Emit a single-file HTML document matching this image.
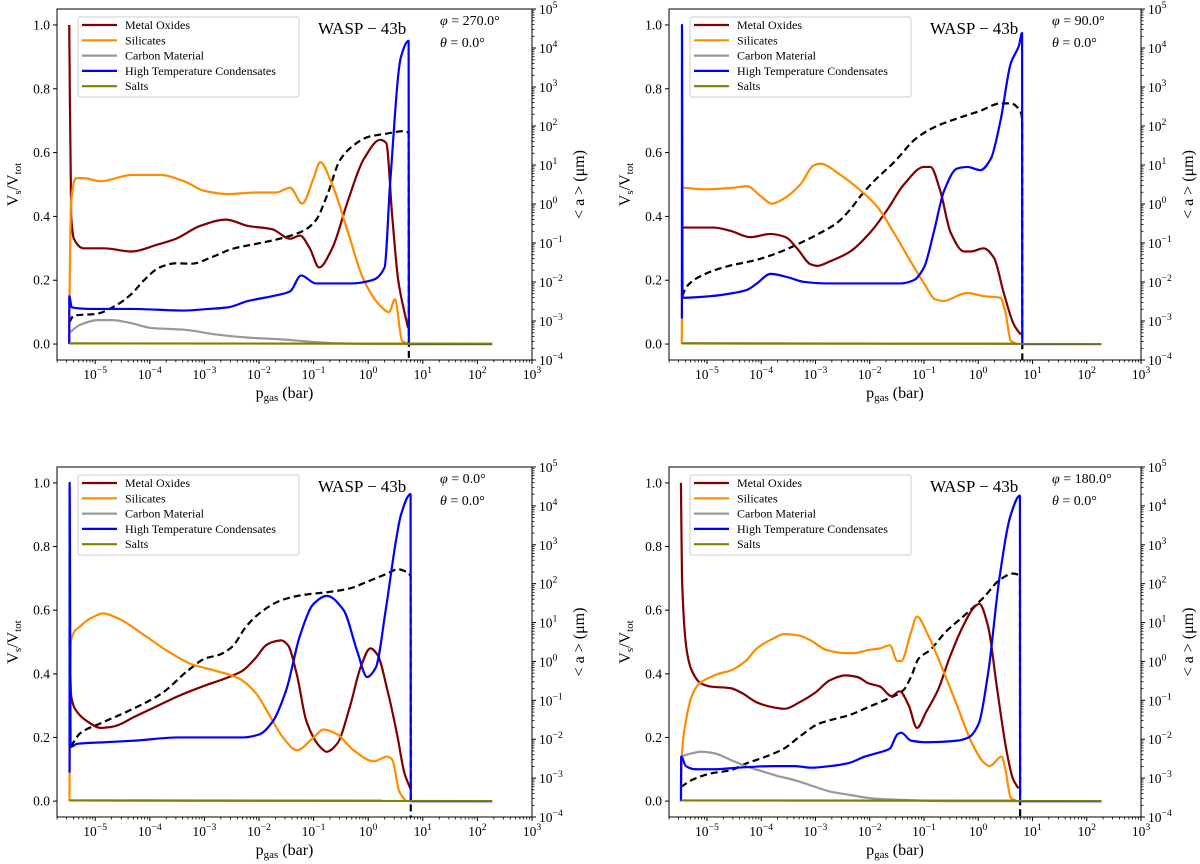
<!DOCTYPE html>
<html><head><meta charset="utf-8">
<style>
html,body{margin:0;padding:0;background:#fff;}
svg{display:block;font-family:"Liberation Serif","DejaVu Serif",serif;}
</style></head>
<body>
<svg id="chart" width="1200" height="864" viewBox="0 0 1200 864" xmlns="http://www.w3.org/2000/svg"></svg>
<script>
// ---- data (x = log10 p_gas [bar]; y = V_s/V_tot ; size = log10 <a> [um]) ----
const xTickExps = [-5,-4,-3,-2,-1,0,1,2,3];
const yTickVals = [0.0,0.2,0.4,0.6,0.8,1.0];
const rTickExps = [-4,-3,-2,-1,0,1,2,3,4,5];
const seriesNames = ["Metal  Oxides","Silicates","Carbon Material","High  Temperature  Condensates","Salts"];
const phiLabels = ["270.0","90.0","0.0","180.0"];

const metal1=[[-5.476,1.0],[-5.44,0.4],[-5.39,0.33],[-5.21,0.30],[-4.84,0.30],[-4.33,0.29],[-3.89,0.31],[-3.52,0.33],[-3.08,0.37],[-2.6,0.39],[-2.2,0.37],[-1.76,0.36],[-1.43,0.33],[-1.25,0.34],[-1.07,0.30],[-0.9,0.24],[-0.66,0.30],[-0.37,0.45],[-0.08,0.58],[0.22,0.64],[0.33,0.63],[0.44,0.40],[0.55,0.20],[0.73,0.05]];
const sil1=[[-5.476,0],[-5.47,0.15],[-5.44,0.45],[-5.35,0.52],[-5.21,0.52],[-4.91,0.51],[-4.33,0.53],[-3.81,0.53],[-3.37,0.51],[-3.0,0.48],[-2.57,0.47],[-2.05,0.475],[-1.69,0.475],[-1.43,0.49],[-1.21,0.44],[-1.0,0.52],[-0.88,0.57],[-0.66,0.50],[-0.37,0.35],[-0.08,0.20],[0.22,0.12],[0.38,0.10],[0.49,0.14],[0.62,0.01],[0.73,0]];
const carb1=[[-5.476,0.035],[-5.28,0.06],[-4.95,0.075],[-4.69,0.075],[-4.33,0.065],[-3.96,0.05],[-3.37,0.045],[-2.79,0.03],[-2.2,0.02],[-1.62,0.015],[-1.03,0.007],[-0.52,0.002],[0.22,0],[2.27,0]];
const htc1=[[-5.476,0],[-5.475,0.15],[-5.43,0.115],[-5.06,0.11],[-4.33,0.11],[-3.37,0.105],[-2.93,0.11],[-2.57,0.115],[-2.2,0.135],[-1.76,0.15],[-1.43,0.165],[-1.23,0.215],[-0.96,0.19],[-0.3,0.19],[0.07,0.20],[0.30,0.24],[0.40,0.50],[0.60,0.90],[0.74,0.95],[0.745,0],[2.27,0]];
const salt1=[[-5.476,0.002],[2.27,0.001]];
const size1=[[-5.476,-3.04],[-5.39,-2.86],[-4.99,-2.82],[-4.62,-2.6],[-4.33,-2.3],[-4.11,-1.96],[-3.81,-1.62],[-3.52,-1.52],[-3.23,-1.53],[-2.86,-1.36],[-2.49,-1.15],[-2.05,-1.02],[-1.62,-0.89],[-1.18,-0.68],[-0.96,-0.42],[-0.74,0.27],[-0.52,1.12],[-0.3,1.47],[0.0,1.72],[0.36,1.81],[0.66,1.87],[0.74,1.81],[0.745,-4.1]];

const metal2=[[-5.46,0.365],[-4.88,0.365],[-4.57,0.355],[-4.2,0.335],[-3.83,0.345],[-3.55,0.335],[-3.34,0.30],[-3.09,0.25],[-2.97,0.245],[-2.72,0.26],[-2.36,0.29],[-1.99,0.35],[-1.68,0.42],[-1.37,0.50],[-1.0,0.555],[-0.88,0.555],[-0.7,0.48],[-0.51,0.35],[-0.26,0.29],[-0.14,0.29],[0.1,0.30],[0.29,0.27],[0.47,0.16],[0.66,0.06],[0.78,0.03]];
const sil2=[[-5.465,0],[-5.462,0.08],[-5.455,0.49],[-5.06,0.485],[-4.51,0.49],[-4.26,0.495],[-4.02,0.465],[-3.8,0.44],[-3.59,0.455],[-3.28,0.50],[-3.03,0.56],[-2.91,0.565],[-2.54,0.53],[-2.23,0.49],[-1.86,0.43],[-1.56,0.35],[-1.25,0.26],[-1.0,0.19],[-0.79,0.14],[-0.63,0.135],[-0.33,0.155],[-0.2,0.16],[0.1,0.15],[0.41,0.145],[0.5,0.10],[0.6,0.01],[0.72,0]];
const carb2=[[-5.46,0.002],[2.27,0]];
const htc2=[[-5.462,0.08],[-5.461,1.0],[-5.45,0.145],[-4.94,0.15],[-4.51,0.16],[-4.26,0.17],[-4.08,0.19],[-3.83,0.22],[-3.52,0.21],[-3.22,0.195],[-2.79,0.19],[-2.05,0.19],[-1.43,0.19],[-1.19,0.20],[-1.0,0.24],[-0.82,0.35],[-0.63,0.48],[-0.39,0.55],[-0.2,0.555],[0.04,0.545],[0.23,0.58],[0.41,0.70],[0.6,0.88],[0.75,0.935],[0.808,0.975],[0.812,0],[2.27,0]];
const salt2=[[-5.462,0.002],[2.27,0.001]];
const size2=[[-5.46,-2.37],[-5.37,-2.11],[-5.06,-1.81],[-4.63,-1.6],[-4.08,-1.43],[-3.71,-1.26],[-3.28,-1.0],[-2.91,-0.74],[-2.6,-0.48],[-2.36,-0.14],[-2.17,0.2],[-1.92,0.59],[-1.56,1.06],[-1.13,1.70],[-0.76,2.0],[-0.33,2.22],[0.04,2.39],[0.41,2.58],[0.6,2.58],[0.75,2.43],[0.808,2.17],[0.812,-4.1]];

const metal3=[[-5.47,0.5],[-5.44,0.33],[-5.33,0.28],[-5.14,0.25],[-4.9,0.23],[-4.65,0.235],[-4.28,0.265],[-3.85,0.30],[-3.48,0.33],[-3.04,0.36],[-2.55,0.39],[-2.3,0.41],[-2.06,0.45],[-1.87,0.49],[-1.75,0.50],[-1.59,0.505],[-1.47,0.49],[-1.31,0.40],[-1.13,0.25],[-0.88,0.17],[-0.76,0.155],[-0.57,0.18],[-0.33,0.30],[-0.14,0.42],[0.04,0.48],[0.17,0.46],[0.35,0.35],[0.54,0.20],[0.66,0.09],[0.77,0.04]];
const sil3=[[-5.472,0],[-5.47,0.09],[-5.45,0.50],[-5.27,0.55],[-5.02,0.58],[-4.86,0.59],[-4.59,0.575],[-4.09,0.52],[-3.66,0.47],[-3.23,0.43],[-2.8,0.41],[-2.36,0.385],[-2.06,0.34],[-1.81,0.27],[-1.56,0.20],[-1.31,0.16],[-1.0,0.20],[-0.82,0.225],[-0.57,0.21],[-0.27,0.16],[0.1,0.125],[0.35,0.14],[0.44,0.13],[0.57,0.03],[0.69,0]];
const carb3=[[-5.47,0.002],[2.27,0]];
const htc3=[[-5.47,0.09],[-5.469,1.0],[-5.45,0.17],[-5.33,0.18],[-4.83,0.185],[-4.28,0.19],[-3.48,0.20],[-3.04,0.20],[-2.3,0.20],[-1.99,0.21],[-1.75,0.25],[-1.5,0.35],[-1.25,0.52],[-1.0,0.62],[-0.76,0.645],[-0.45,0.60],[-0.2,0.47],[-0.02,0.39],[0.14,0.42],[0.32,0.60],[0.51,0.82],[0.6,0.90],[0.776,0.965],[0.78,0],[2.27,0]];
const salt3=[[-5.47,0.002],[2.27,0.001]];
const size3=[[-5.45,-2.19],[-5.27,-1.84],[-4.9,-1.59],[-4.34,-1.24],[-3.78,-0.82],[-3.29,-0.22],[-2.98,0.08],[-2.73,0.17],[-2.49,0.38],[-2.24,0.89],[-1.99,1.24],[-1.58,1.58],[-1.19,1.71],[-0.7,1.79],[-0.33,1.88],[-0.02,2.05],[0.35,2.26],[0.54,2.37],[0.69,2.31],[0.776,2.18],[0.78,-4.1]];

const metal4=[[-5.48,1.0],[-5.46,0.70],[-5.37,0.47],[-5.28,0.41],[-5.11,0.37],[-4.93,0.36],[-4.57,0.355],[-4.36,0.34],[-4.08,0.31],[-3.79,0.295],[-3.57,0.29],[-3.3,0.31],[-3.01,0.34],[-2.73,0.38],[-2.45,0.395],[-2.23,0.39],[-2.02,0.37],[-1.81,0.36],[-1.6,0.33],[-1.45,0.345],[-1.28,0.30],[-1.13,0.23],[-0.96,0.28],[-0.74,0.35],[-0.53,0.45],[-0.28,0.55],[-0.07,0.61],[0.02,0.62],[0.18,0.55],[0.35,0.35],[0.53,0.15],[0.64,0.07],[0.74,0.04]];
const sil4=[[-5.48,0],[-5.46,0.15],[-5.39,0.25],[-5.28,0.33],[-5.14,0.37],[-4.93,0.39],[-4.79,0.40],[-4.57,0.41],[-4.29,0.44],[-4.08,0.48],[-3.79,0.51],[-3.58,0.525],[-3.3,0.52],[-3.09,0.505],[-2.8,0.475],[-2.45,0.465],[-2.3,0.465],[-2.02,0.475],[-1.81,0.48],[-1.63,0.49],[-1.49,0.44],[-1.42,0.44],[-1.24,0.53],[-1.13,0.58],[-0.92,0.52],[-0.67,0.42],[-0.39,0.30],[-0.11,0.18],[0.11,0.12],[0.21,0.11],[0.43,0.14],[0.5,0.10],[0.6,0.01],[0.71,0]];
const carb4=[[-5.48,0.14],[-5.28,0.15],[-5.11,0.155],[-4.86,0.15],[-4.57,0.13],[-4.29,0.11],[-4.01,0.095],[-3.72,0.08],[-3.37,0.065],[-3.01,0.045],[-2.73,0.03],[-2.38,0.02],[-2.02,0.01],[-1.6,0.005],[-1.1,0.002],[-0.6,0],[2.27,0]];
const htc4=[[-5.48,0],[-5.475,0.14],[-5.39,0.11],[-5.21,0.10],[-4.86,0.10],[-4.43,0.105],[-3.79,0.11],[-3.37,0.11],[-3.09,0.105],[-2.73,0.11],[-2.38,0.12],[-2.09,0.14],[-1.88,0.15],[-1.63,0.165],[-1.49,0.21],[-1.42,0.215],[-1.24,0.19],[-0.96,0.185],[-0.39,0.19],[-0.18,0.20],[0.0,0.24],[0.18,0.40],[0.39,0.70],[0.6,0.90],[0.768,0.96],[0.772,0],[2.27,0]];
const salt4=[[-5.48,0.002],[2.27,0.001]];
const size4=[[-5.48,-3.23],[-5.28,-3.05],[-4.93,-2.88],[-4.57,-2.8],[-4.29,-2.63],[-3.94,-2.46],[-3.58,-2.24],[-3.3,-1.94],[-2.94,-1.6],[-2.73,-1.51],[-2.38,-1.38],[-2.02,-1.17],[-1.67,-0.96],[-1.38,-0.74],[-1.24,-0.4],[-1.1,0.07],[-0.89,0.29],[-0.6,0.76],[-0.25,1.19],[0.11,1.66],[0.39,2.09],[0.64,2.26],[0.768,2.17],[0.772,-4.1]];

const panelData=[
 {metal:metal1,sil:sil1,carb:carb1,htc:htc1,salt:salt1,size:size1},
 {metal:metal2,sil:sil2,carb:carb2,htc:htc2,salt:salt2,size:size2},
 {metal:metal3,sil:sil3,carb:carb3,htc:htc3,salt:salt3,size:size3},
 {metal:metal4,sil:sil4,carb:carb4,htc:htc4,salt:salt4,size:size4}
];
const colors={metal:"#800000",sil:"#ff8c00",carb:"#999999",htc:"#0000ff",salt:"#808000"};
const keys=["metal","sil","carb","htc","salt"];

const NS="http://www.w3.org/2000/svg";
const svg=document.getElementById("chart");
function el(tag,attrs,parent){const e=document.createElementNS(NS,tag);for(const k in attrs)e.setAttribute(k,attrs[k]);(parent||svg).appendChild(e);return e;}

// monotone cubic path (no overshoot) through data points, mapped by sx/sy
function smoothPath(pts,sx,sy){
  const n=pts.length;
  if(n<3){return "M"+pts.map(p=>sx(p[0]).toFixed(2)+","+sy(p[1]).toFixed(2)).join("L");}
  const dx=[],m=[];
  for(let i=0;i<n-1;i++){dx.push(pts[i+1][0]-pts[i][0]);m.push((pts[i+1][1]-pts[i][1])/dx[i]);}
  const t=new Array(n);
  t[0]=m[0];t[n-1]=m[n-2];
  for(let i=1;i<n-1;i++){
    if(m[i-1]*m[i]<=0)t[i]=0;
    else{const h0=dx[i-1],h1=dx[i];t[i]=3*(h0+h1)/((2*h1+h0)/m[i-1]+(h1+2*h0)/m[i]);}
  }
  let d="M"+sx(pts[0][0]).toFixed(2)+","+sy(pts[0][1]).toFixed(2);
  for(let i=0;i<n-1;i++){
    const h=dx[i]/3;
    const c1x=pts[i][0]+h,c1y=pts[i][1]+t[i]*h;
    const c2x=pts[i+1][0]-h,c2y=pts[i+1][1]-t[i+1]*h;
    d+="C"+sx(c1x).toFixed(2)+","+sy(c1y).toFixed(2)+" "+sx(c2x).toFixed(2)+","+sy(c2y).toFixed(2)+" "+sx(pts[i+1][0]).toFixed(2)+","+sy(pts[i+1][1]).toFixed(2);
  }
  return d;
}

const boxes=[{l:57,r:532,t:9,b:360},{l:669,r:1141,t:9,b:360},{l:57,r:532,t:467,b:817},{l:669,r:1141,t:467,b:817}];
const XMIN=-5.7,XMAX=3,YMIN=-0.05,YMAX=1.05,RMIN=-4,RMAX=5;

function supText(parent,x,y,base,exp,anchor,size){
  const t=el("text",{x:x,y:y,"text-anchor":anchor,"font-size":size,fill:"#000"},parent);
  t.appendChild(document.createTextNode(base));
  const s=el("tspan",{dy:-6,"font-size":size*0.72},t);
  s.textContent=exp;
  return t;
}

boxes.forEach((B,i)=>{
  const D=panelData[i];
  const g=el("g",{});
  
  
  const xs=v=>B.l+(v-XMIN)/(XMAX-XMIN)*(B.r-B.l);
  const ys=v=>B.b-(v-YMIN)/(YMAX-YMIN)*(B.b-B.t);
  const rs=v=>B.b-(v-RMIN)/(RMAX-RMIN)*(B.b-B.t);
  const clipId="clip"+i;
  const cp=el("clipPath",{id:clipId},g);
  el("rect",{x:B.l,y:B.t,width:B.r-B.l,height:B.b-B.t},cp);
  const plot=el("g",{"clip-path":"url(#"+clipId+")"},g);
  
  
  const dl=el("path",{d:smoothPath(D.size,xs,rs),fill:"none",stroke:"#000","stroke-width":2.2,"stroke-dasharray":"7,4"},plot);
  
  
  keys.forEach(k=>{
    const pl=el("path",{d:smoothPath(D[k],xs,ys),fill:"none",stroke:colors[k],"stroke-width":2.2,"stroke-linejoin":"round"},plot);
    
    
  });

  const fr=el("rect",{x:B.l,y:B.t,width:B.r-B.l,height:B.b-B.t,fill:"none",stroke:"#000","stroke-width":1},g);
  
  

  xTickExps.forEach(e=>{
    const x=xs(e);
    el("line",{x1:x,y1:B.b,x2:x,y2:B.b+4,stroke:"#000","stroke-width":1},g);
    const t=supText(g,x,B.b+19,"10",String(e).replace("-","\u2212"),"middle",13.5);
    
    
    if(e<XMAX){for(let k=2;k<10;k++){const xm=xs(e+Math.log10(k));el("line",{x1:xm,y1:B.b,x2:xm,y2:B.b+2.5,stroke:"#000","stroke-width":0.8},g);}}
  });
  for(let k=2;k<10;k++){const xm=xs(-6+Math.log10(k));if(xm>B.l)el("line",{x1:xm,y1:B.b,x2:xm,y2:B.b+2.5,stroke:"#000","stroke-width":0.8},g);}
  yTickVals.forEach(v=>{
    const y=ys(v);
    el("line",{x1:B.l-4,y1:y,x2:B.l,y2:y,stroke:"#000","stroke-width":1},g);
    const t=el("text",{x:B.l-7,y:y+4.5,"text-anchor":"end","font-size":13.5},g);
    t.textContent=v.toFixed(1);
    
    
  });
  rTickExps.forEach(e=>{
    const y=rs(e);
    el("line",{x1:B.r,y1:y,x2:B.r+4,y2:y,stroke:"#000","stroke-width":1},g);
    const t=supText(g,B.r+7,y+5,"10",String(e).replace("-","\u2212"),"start",13.5);
    
    
    if(e<RMAX){for(let k=2;k<10;k++){const ym=rs(e+Math.log10(k));el("line",{x1:B.r,y1:ym,x2:B.r+2.5,y2:ym,stroke:"#000","stroke-width":0.8},g);}}
  });
  const cy=(B.t+B.b)/2, cx=(B.l+B.r)/2;
  const yl=el("text",{transform:"translate("+(B.l-39)+","+cy+") rotate(-90)","text-anchor":"middle","font-size":16},g);
  yl.innerHTML='V<tspan font-size="11" dy="3">s</tspan><tspan dy="-3">/V</tspan><tspan font-size="11" dy="3">tot</tspan>';
  
  
  const rl=el("text",{transform:"translate("+(B.r+52)+","+cy+") rotate(-90)","text-anchor":"middle","font-size":16},g);
  rl.textContent="< a >    (\u03bcm)";
  
  
  const xl=el("text",{x:cx-10,y:B.b+38,"text-anchor":"middle","font-size":16},g);
  xl.innerHTML='p<tspan font-size="11" dy="3">gas</tspan><tspan dy="-3"> (bar)</tspan>';
  
  

  const tt=el("text",{x:B.l+261,y:B.t+25,"font-size":17},g);
  tt.textContent="WASP \u2212 43b";
  
  
  const ph=el("text",{x:B.l+383,y:B.t+16,"font-size":14},g);
  ph.innerHTML='<tspan font-style="italic">\u03c6</tspan> = '+phiLabels[i]+'\u00b0';
  
  
  const th=el("text",{x:B.l+383,y:B.t+38,"font-size":14},g);
  th.innerHTML='<tspan font-style="italic">\u03b8</tspan> = 0.0\u00b0';
  
  

  const lg=el("g",{},g);
  
  
  el("rect",{x:B.l+21,y:B.t+8,width:221,height:80,rx:2,fill:"#fff","fill-opacity":0.85,stroke:"#ccc","stroke-width":1},lg);
  keys.forEach((k,j)=>{
    const y=B.t+16+j*15.3;
    const ln=el("line",{x1:B.l+25,y1:y,x2:B.l+60,y2:y,stroke:colors[k],"stroke-width":2.2},lg);
    
    
    const t=el("text",{x:B.l+68,y:y+4,"font-size":12},lg);
    t.textContent=seriesNames[j];
    
    
  });
});
</script>
</body></html>
